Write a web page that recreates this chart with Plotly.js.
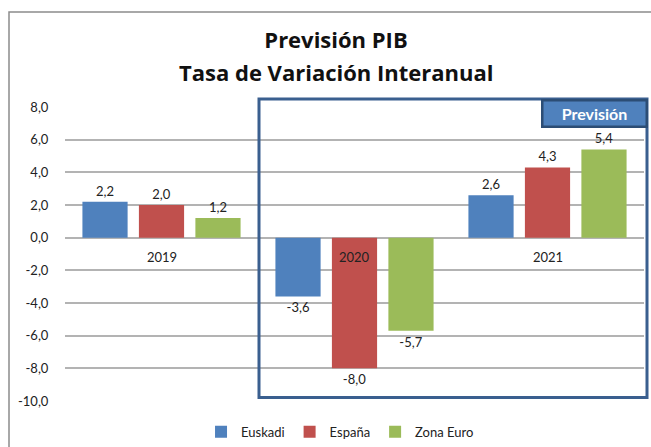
<!DOCTYPE html>
<html>
<head>
<meta charset="utf-8">
<script src="https://cdn.plot.ly/plotly-3.0.1.min.js"></script>
<style>html,body{margin:0;padding:0;background:#fff;}#chart{width:651px;height:447px;}</style>
</head>
<body>
<div id="chart"></div>
<script>
const categories = ['2019', '2020', '2021'];
const euskadi = [2.2, -3.6, 2.6];
const espana = [2.0, -8.0, 4.3];
const zonaEuro = [1.2, -5.7, 5.4];
const seriesNames = ['Euskadi', 'España', 'Zona Euro'];
const seriesColors = ['#4f81bd', '#c0504d', '#9bbb59'];
const yTicks = [8, 6, 4, 2, 0, -2, -4, -6, -8, -10];
const yTickText = ['8,0', '6,0', '4,0', '2,0', '0,0', '-2,0', '-4,0', '-6,0', '-8,0', '-10,0'];
const titleLine1 = 'Previsión PIB';
const titleLine2 = 'Tasa de Variación Interanual';
const forecastLabel = 'Previsión';

const FONT = 'Lato, "Open Sans", sans-serif';
const TFONT = '"Open Sans", Lato, sans-serif';
const fmt = x => x.toFixed(1).replace('.', ',');
const values = [euskadi, espana, zonaEuro];
const traces = values.map((v, i) => ({
  type: 'bar',
  name: seriesNames[i],
  x: categories,
  y: v,
  marker: {color: seriesColors[i]},
  text: v.map(fmt),
  texttemplate: '%{text}',
  textposition: 'outside',
  textfont: {family: FONT, size: 13, color: '#222'},
  cliponaxis: false
}));

const catAnn = categories.map((c, i) => ({
  x: i, y: 0, xref: 'x', yref: 'y', text: c, showarrow: false,
  yanchor: 'top', yshift: -9, font: {family: FONT, size: 13, color: '#222'}
}));

const layout = {
  width: 651, height: 447,
  margin: {l: 65, r: 7, t: 107, b: 46, autoexpand: false},
  paper_bgcolor: '#fff', plot_bgcolor: '#fff',
  separators: ',.',
  barmode: 'group', bargap: 0.122, bargroupgap: 0.2,
  title: {
    text: '<b>' + titleLine1 + '</b>',
    x: 336 / 651, xanchor: 'center', xref: 'container',
    y: 1 - 40 / 447, yanchor: 'middle', yref: 'container',
    font: {family: TFONT, size: 22, color: '#111'}
  },
  xaxis: {
    type: 'category', categoryorder: 'array', categoryarray: categories,
    range: [-0.5, 2.5], autorange: false,
    showticklabels: false, showgrid: false, zeroline: false,
    showline: false, ticks: ''
  },
  yaxis: {
    range: [-10, 8], autorange: false, tickvals: yTicks, ticktext: yTickText,
    showgrid: true, gridcolor: '#b3b3b3', gridwidth: 1.5,
    zeroline: true, zerolinecolor: '#b3b3b3', zerolinewidth: 1.5,
    showline: false, ticks: 'outside', ticklen: 13, tickcolor: 'rgba(0,0,0,0)',
    tickfont: {family: FONT, size: 13, color: '#222'}
  },
  showlegend: true,
  legend: {
    orientation: 'h', x: 0.475, xanchor: 'center', y: -0.105, yanchor: 'middle',
    font: {family: FONT, size: 13, color: '#222'}, traceorder: 'normal', itemwidth: 30
  },
  shapes: [
    {type: 'rect', xref: 'paper', yref: 'paper',
     x0: (9 - 65) / 579, x1: (680 - 65) / 579, y0: (401 - 470) / 294, y1: (401 - 12) / 294,
     line: {color: '#8c8c8c', width: 1.5}, fillcolor: 'rgba(0,0,0,0)', layer: 'below'},
    {type: 'rect', xref: 'paper', yref: 'paper',
     x0: (259 - 65) / 579, x1: (647 - 65) / 579, y0: (401 - 397.5) / 294, y1: (401 - 99) / 294,
     line: {color: '#3a5f8f', width: 3}, fillcolor: 'rgba(0,0,0,0)', layer: 'above'}
  ],
  annotations: catAnn.concat([
    {
      xref: 'paper', yref: 'paper', x: (336 - 65) / 579, y: (401 - 72) / 294,
      text: '<b>' + titleLine2 + '</b>', showarrow: false,
      xanchor: 'center', yanchor: 'middle',
      font: {family: TFONT, size: 22, color: '#111'}
    },
    {
      xref: 'paper', yref: 'paper', x: (594 - 65) / 579, y: (401 - 113) / 294,
      text: '<b>' + forecastLabel + '</b>', showarrow: false,
      xanchor: 'center', yanchor: 'middle',
      font: {family: FONT, size: 16, color: '#fff'},
      bgcolor: '#4f81bd', bordercolor: '#2c4d75', borderwidth: 2.5, borderpad: 2,
      width: 98, height: 20
    }
  ])
};

Plotly.newPlot('chart', traces, layout, {displayModeBar: false});
</script>
</body>
</html>
